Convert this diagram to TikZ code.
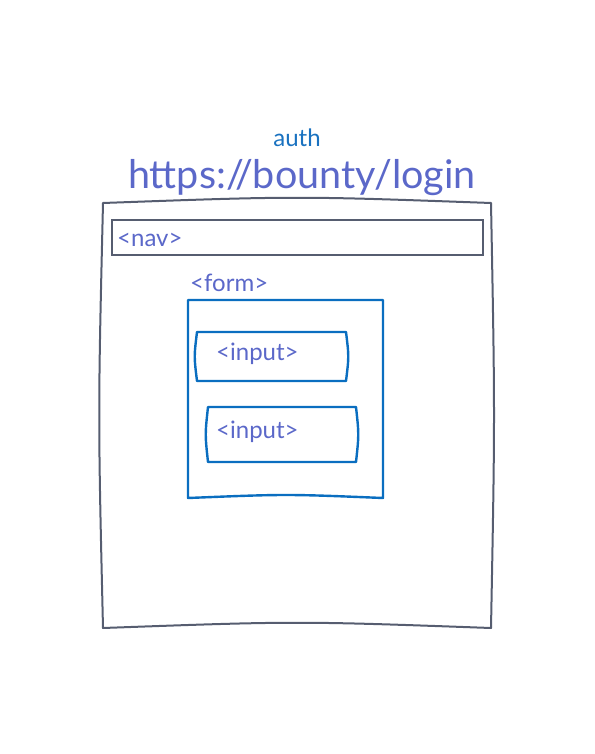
\documentclass[tikz,border=0pt]{standalone}
\usepackage{fontspec}
\setmainfont{Lato}
\usetikzlibrary{positioning}
\definecolor{framegray}{HTML}{565D70}
\definecolor{formblue}{HTML}{0A6EC0}
\definecolor{tagviolet}{HTML}{5B68C9}
\definecolor{authblue}{HTML}{1A72C0}

\begin{document}
\begin{tikzpicture}[x=1pt,y=-1pt,
    frame/.style={draw=framegray, line width=2pt, line join=round},
    navbar/.style={draw=framegray, line width=2.8pt},
    formbox/.style={draw=formblue, line width=2.4pt, line join=round},
    tag/.style={text=tagviolet, inner sep=0pt, anchor=base west, font=\fontsize{24}{28}\selectfont}]

\useasboundingbox (0,0) rectangle (594,754);

% page title
\node[text=authblue, inner sep=0pt, anchor=base, font=\fontsize{24}{28}\selectfont] (auth) at (297,147) {auth};
\node[text=tagviolet, inner sep=0pt, anchor=base, font=\fontsize{39.5}{44}\selectfont] (url) at (302,189) {https://bounty/login};

% browser frame
\draw[frame] (103,203) .. controls (297,196) .. (491,203)
    .. controls (495,415) .. (491,628)
    .. controls (297,621) .. (103,628)
    .. controls (98,415) .. (103,203) -- cycle;

% nav bar
\draw[navbar] (112,220) rectangle (483,255);
\node[tag] (nav) at (117,246) {<nav>};

% form
\node[tag] (form) at (190,291) {<form>};
\draw[formbox] (188,300) -- (383,300) -- (383,498)
    .. controls (286,494) .. (188,498) -- cycle;

% inputs
\foreach \xa/\xb/\ya/\yb in {197/346/332/381, 208/356/407/462}
{%
    \draw[formbox] (\xa,\ya) -- (\xb,\ya)
        .. controls (\xb+3,{(\ya+\yb)/2}) .. (\xb,\yb)
        -- (\xa,\yb)
        .. controls (\xa-3,{(\ya+\yb)/2}) .. (\xa,\ya) -- cycle;
}
\node[tag] (inputa) at (216,360) {<input>};
\node[tag] (inputb) at (216,438) {<input>};

\end{tikzpicture}
\end{document}
